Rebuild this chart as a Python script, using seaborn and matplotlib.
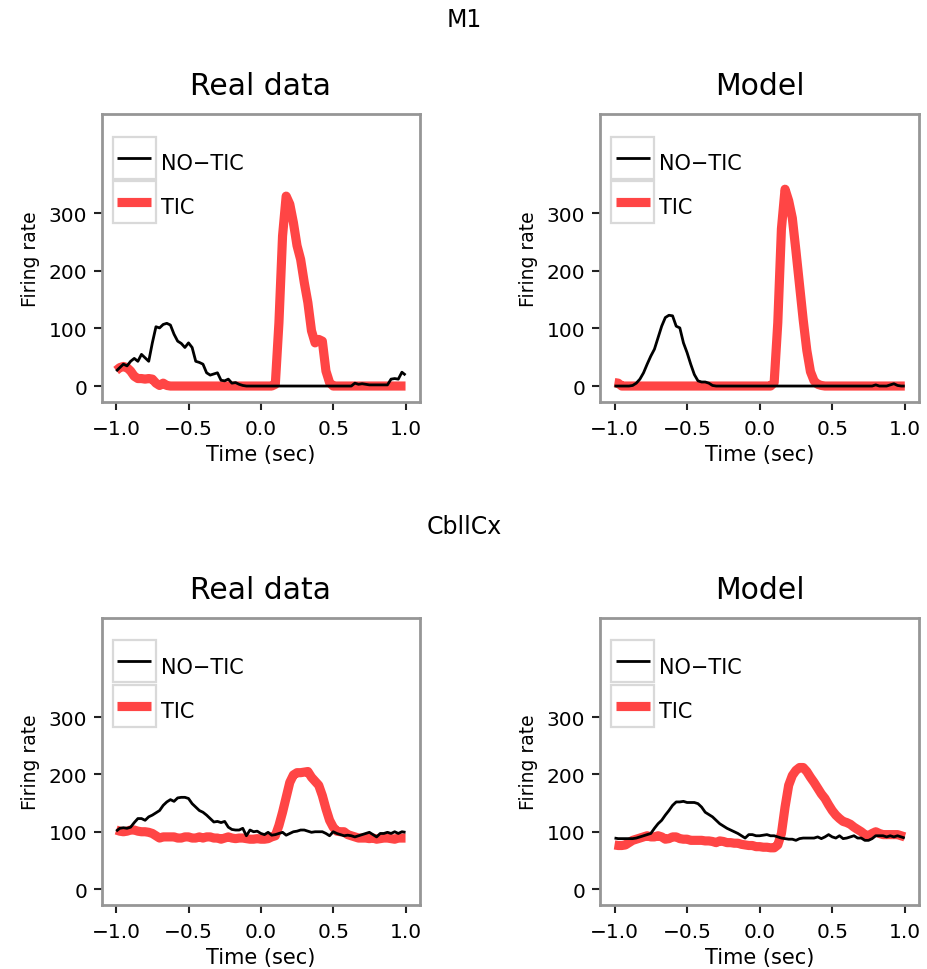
import numpy as np
import pandas as pd
import matplotlib
matplotlib.use("Agg")
import matplotlib.pyplot as plt
from matplotlib.lines import Line2D
from matplotlib.patches import Rectangle
import seaborn as sns

# ---------------- data ----------------
time = np.round(np.arange(-1.0, 1.0 + 1e-9, 0.025), 3)   # 81 samples, -1 .. 1 sec

m1_real_notic = [26, 32, 38, 35, 43, 48, 43, 55, 49, 43, 75, 103, 101, 107, 109, 106,
                 90, 78, 74, 67, 75, 67, 43, 41, 38, 23, 19, 21, 23, 10, 9, 12, 5, 6, 3, 1,
                 0, 0, 0, 0, 0, 0, 0, 0, 0, 0, 0, 0, 0, 0, 0, 0, 0, 0, 0, 0, 0, 0, 0, 0,
                 0, 0, 0, 0, 0, 0,
                 5, 3, 4, 3, 2, 2, 2, 2, 2, 2, 12, 13, 12, 24, 19]
m1_real_tic = [27, 32, 34, 32, 26, 17, 13, 13, 12, 13, 12, 5, 1, 5, 1,
               0, 0, 0, 0, 0, 0, 0, 0, 0, 0, 0, 0, 0, 0, 0, 0, 0, 0, 0, 0, 0, 0, 0, 0,
               0, 0, 0, 0, 0,
               3, 110, 261, 330, 316, 284, 244, 220, 180, 145, 96, 75, 81, 78, 26, 6,
               0, 0, 0, 0, 0, 0, 0, 0, 0, 0, 0, 0, 0, 0, 0, 0, 0, 0, 0, 0, 0]
m1_model_notic = [0, 0, 0, 0, 0,
                  1, 5, 12, 23, 38, 52, 64, 84, 104, 119, 123, 122, 104, 101, 75, 58, 38,
                  20, 9, 7, 7, 5, 1,
                  0, 0, 0, 0, 0, 0, 0, 0, 0, 0, 0, 0, 0, 0, 0, 0, 0, 0, 0, 0, 0, 0, 0, 0,
                  0, 0, 0, 0, 0, 0, 0, 0, 0, 0, 0, 0, 0, 0, 0, 0, 0, 0, 0, 0,
                  2, 0, 0, 0, 2, 4, 1, 0, 0]
m1_model_tic = [6, 5,
                0, 0, 0, 0, 0, 0, 0, 0, 0, 0, 0, 0, 0, 0, 0, 0, 0, 0, 0, 0, 0, 0, 0, 0,
                0, 0, 0, 0, 0, 0, 0, 0, 0, 0, 0, 0, 0, 0, 0, 0, 0, 0,
                6, 110, 273, 342, 322, 292, 235, 175, 115, 62, 25, 9, 3, 1,
                0, 0, 0, 0, 0, 0, 0, 0, 0, 0, 0, 0, 0, 0, 0, 0, 0, 0, 0, 0, 0, 0, 0]

cb_real_notic = [101, 106, 107, 106, 108, 116, 123, 123, 120, 126, 129, 133, 137, 146,
                 152, 156, 153, 159, 160, 160, 158, 149, 143, 137, 134, 129, 123, 117,
                 118, 116, 118, 108, 104, 103, 103, 106, 93, 103, 100, 101,
                 97, 95, 99, 94, 95, 97, 99, 94, 97, 100, 101, 103, 103, 101, 99, 100,
                 100, 100, 97, 93, 100, 97, 95, 93, 94, 93, 91, 93, 95, 97, 99, 95, 91,
                 97, 97, 99, 97, 100, 97, 100, 99]
cb_real_tic = [103, 101, 100, 101, 103, 103, 101, 100, 100, 99, 97, 93, 89, 91, 91, 91,
               91, 89, 89, 91, 91, 89, 89, 91, 89, 91, 91, 89, 89, 87, 89, 91, 89, 88,
               89, 89, 88, 87, 87, 88,
               87, 87, 88, 91, 93, 111, 134, 160, 186, 199, 203, 203, 204, 205, 195,
               188, 181, 163, 140, 120, 108, 101, 100, 100, 95, 93, 91, 89, 89, 89, 88,
               89, 87, 88, 89, 89, 88, 87, 89, 89, 89]
cb_model_notic = [89, 88, 88, 88, 88, 88, 89, 91, 93, 95, 97, 106, 114, 120, 129, 137,
                  146, 152, 152, 153, 151, 151, 151, 149, 143, 134, 130, 126, 120, 114,
                  110, 106, 103, 100, 97, 93, 89, 95, 95, 93,
                  93, 94, 95, 93, 93, 91, 89, 88, 87, 87, 85, 88, 89, 89, 89, 89, 91,
                  88, 91, 95, 91, 89, 93, 88, 89, 91, 93, 89, 89, 85, 85, 88, 93, 93,
                  93, 91, 93, 91, 93, 91, 89]
cb_model_tic = [77, 76, 76, 77, 81, 85, 87, 89, 91, 93, 91, 91, 93, 91, 87, 88, 91, 91,
                88, 87, 87, 85, 85, 85, 85, 84, 84, 83, 81, 84, 83, 81, 81, 80, 80, 78,
                77, 76, 76, 74,
                74, 73, 73, 72, 72, 77, 97, 143, 181, 198, 207, 212, 212, 205, 195, 186,
                176, 166, 158, 147, 137, 129, 123, 118, 116, 113, 108, 104, 100, 95, 93,
                97, 100, 97, 95, 95, 95, 95, 95, 93, 91]

groups = ["NO\u2212TIC", "TIC"]
row_titles = ["M1", "CbllCx"]
col_titles = ["Real data", "Model"]
panel_series = [
    [(m1_real_notic, m1_real_tic), (m1_model_notic, m1_model_tic)],
    [(cb_real_notic, cb_real_tic), (cb_model_notic, cb_model_tic)],
]
x_ticks = [-1.0, -0.5, 0.0, 0.5, 1.0]
x_tick_labels = ["\u22121.0", "\u22120.5", "0.0", "0.5", "1.0"]
y_ticks = [0, 100, 200, 300]

# ---------------- style ----------------
sns.set_theme(style="white")
plt.rcParams["font.family"] = ["DejaVu Sans"]
plt.rcParams["text.color"] = "black"
plt.rcParams["axes.labelcolor"] = "black"

colors = {groups[0]: "black", groups[1]: "#ff4545"}
widths = {groups[0]: 2.0, groups[1]: 6.6}
spine_col = "#969696"

W, H = 928, 970
fig = plt.figure(figsize=(W / 100, H / 100), dpi=100)

col_left = [101.7, 600.0]
col_w = [318.3, 319.3]
row_top = [115.0, 619.0]
row_h = [288.0, 287.0]

axes = []
for r in range(2):
    for c in range(2):
        rect = [col_left[c] / W, 1 - (row_top[r] + row_h[r]) / H, col_w[c] / W, row_h[r] / H]
        ax = fig.add_axes(rect)
        notic, tic = panel_series[r][c]
        df = pd.DataFrame({
            "time": np.concatenate([time, time]),
            "rate": np.concatenate([np.asarray(tic, float), np.asarray(notic, float)]),
            "group": [groups[1]] * len(time) + [groups[0]] * len(time),
        })
        sns.lineplot(data=df, x="time", y="rate", hue="group",
                     hue_order=[groups[1], groups[0]],
                     palette=colors, legend=False, ax=ax,
                     estimator=None, sort=False)
        # line widths by group (drawn in hue order: TIC first, NO-TIC on top)
        for ln, g in zip(ax.get_lines(), [groups[1], groups[0]]):
            ln.set_linewidth(widths[g])
            ln.set_solid_capstyle("butt")
            ln.set_solid_joinstyle("round")
        ax.set_xlim(-1.1, 1.1)
        ax.set_ylim(-27.75, 472.75)
        ax.set_xticks(x_ticks)
        ax.set_xticklabels(x_tick_labels)
        ax.set_yticks(y_ticks)
        ax.tick_params(axis="both", which="major", length=5.5, width=1.5, color="#222222",
                       labelsize=14.5, labelcolor="black", direction="out")
        ax.tick_params(axis="x", pad=6.5)
        ax.tick_params(axis="y", pad=5)
        ax.tick_params(bottom=True, left=True)
        for s in ax.spines.values():
            s.set_color(spine_col)
            s.set_linewidth(2.0)
            s.set_visible(True)
        ax.set_xlabel("Time (sec)", fontsize=15, labelpad=4.5)
        ax.set_ylabel("Firing rate", fontsize=13.5, labelpad=6)
        ax.set_title(col_titles[c], fontsize=21.5, pad=14.5)
        ax.grid(False)

        handles = [Line2D([], [], color=colors[g], lw=widths[g], solid_capstyle="butt")
                   for g in groups]
        leg = ax.legend(handles, groups, loc="upper left", bbox_to_anchor=(0.049, 0.888),
                        frameon=False, borderpad=0, borderaxespad=0, fontsize=15,
                        handlelength=1.63, handleheight=2.0, labelspacing=0.59,
                        handletextpad=0.45)
        axes.append((ax, leg))

for r, t in enumerate(row_titles):
    y = [20, 527][r]
    fig.text(0.5, 1 - y / H, t, ha="center", va="center", fontsize=17)

# key boxes around each legend handle (ggplot-style)
fig.canvas.draw()
renderer = fig.canvas.get_renderer()
for ax, leg in axes:
    inv = ax.transAxes.inverted()
    for h in leg.legend_handles:
        bb = h.get_window_extent(renderer)
        cx, cy = (bb.x0 + bb.x1) / 2, (bb.y0 + bb.y1) / 2
        (x0, y0) = inv.transform((cx - 21.5, cy - 21.0))
        (x1, y1) = inv.transform((cx + 21.5, cy + 21.0))
        ax.add_patch(Rectangle((x0, y0), x1 - x0, y1 - y0, transform=ax.transAxes,
                               fill=False, edgecolor="#d9d9d9", lw=1.6, zorder=5,
                               clip_on=False))

fig.savefig("out.png", dpi=100)
